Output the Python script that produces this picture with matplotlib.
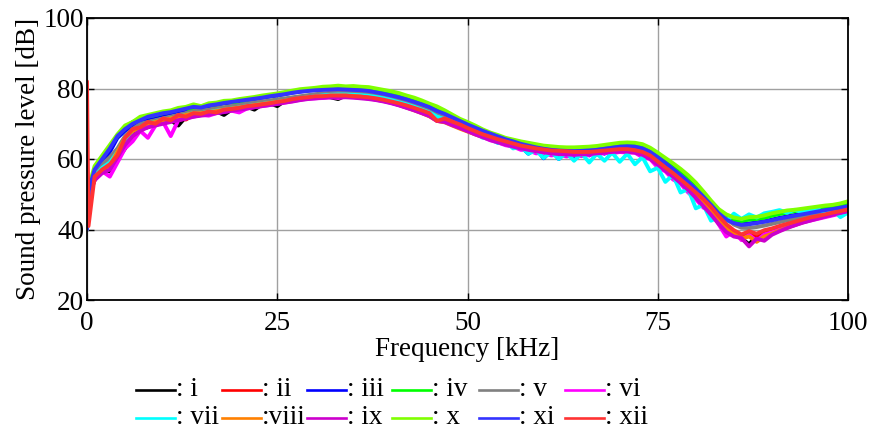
import matplotlib
matplotlib.use("Agg")
import matplotlib.pyplot as plt
from matplotlib.lines import Line2D

plt.rcParams['font.family'] = ['Liberation Serif', 'DejaVu Serif']

freq = [0, 0.2] + list(range(1, 101))

labels = ['i', 'ii', 'iii', 'iv', 'v', 'vi', 'vii', 'viii', 'ix', 'x', 'xi', 'xii']
colors = ['#000000', '#ff0000', '#0000ff', '#00ff00', '#808080', '#ff00ff',
          '#00ffff', '#ff8000', '#cc00cc', '#80ff00', '#3333ff', '#ff3333']

s_i = [40, 50,
       54, 57, 56.5, 60, 63, 67, 68.5, 69, 70, 70.5,
       71, 69.5, 72, 72.5, 73, 73, 73.5, 72.5, 74, 74.5,
       74.8, 74, 75.5, 75.8, 75, 76.5, 76.5, 77, 77.5, 77.6,
       77.8, 77.5, 77, 78, 78, 77.8, 77.6, 77.3, 76.9, 76.4,
       75.9, 75.3, 74.6, 73.9, 73.1, 71.8, 71.4, 70.5, 69.6, 68.7,
       67.8, 67, 66.2, 65.5, 64.9, 64.2, 63.6, 63.1, 62.7, 62.2,
       61.8, 61.6, 61.4, 61.5, 61.4, 61.6, 61.8, 62, 62.3, 62.5,
       62.6, 62.5, 62, 61, 59.5, 57.8, 56, 54.2, 52.3, 50.4,
       48.4, 46.3, 43.9, 41.4, 39, 37.5, 35.8, 38.2, 37.5, 39.5,
       40.5, 41.2, 42, 42.6, 43.2, 43.7, 44.2, 44.7, 45.1, 45.6]
s_ii = [40, 50,
        55, 57.5, 59, 61, 65, 67.5, 68, 69.5, 69.8, 70.5,
        71, 71.5, 71.2, 72.5, 72.8, 73, 73.3, 73.8, 74, 74.2,
        74.6, 75, 75.3, 75.6, 75.9, 76.2, 76.6, 76.9, 77.2, 77.4,
        77.5, 77.6, 77.7, 77.7, 77.6, 77.4, 77.2, 76.9, 76.5, 76,
        75.4, 74.8, 74.2, 73.4, 72.6, 71.2, 71, 70.2, 69.3, 68.4,
        67.5, 66.7, 65.9, 65.2, 64.6, 64, 63.5, 63, 62.6, 62.3,
        62, 61.8, 61.7, 61.6, 61.6, 61.7, 61.9, 62.1, 62.3, 62.5,
        62.5, 62.2, 61.6, 60.6, 59, 57.3, 55.6, 53.8, 52, 50,
        48, 45.8, 43.2, 41, 39.3, 38, 38.8, 37.8, 39.2, 39.8,
        40.6, 41.3, 41.9, 42.5, 43, 43.5, 44, 44.4, 44.9, 45.3]
s_iii = [40, 51,
         56, 59, 62, 66, 68, 69.5, 70.5, 71.5, 72, 72.5,
         73, 73.5, 74, 74.8, 74.5, 75, 75.3, 75.8, 76, 76.3,
         76.7, 77, 77.4, 77.7, 78, 78.4, 78.8, 79.1, 79.4, 79.6,
         79.8, 80, 80.1, 80, 79.9, 79.8, 79.6, 79.2, 78.8, 78.3,
         77.8, 77.2, 76.5, 75.8, 74.9, 73.9, 73, 71.9, 70.8, 69.8,
         68.8, 67.8, 67, 66.2, 65.3, 64.2, 63.6, 61.5, 63, 60.2,
         62.5, 60, 62.3, 60.3, 62.4, 61, 62.6, 61.5, 63, 63.5,
         63.8, 63.6, 63.1, 62.2, 60.7, 59, 57.2, 55.4, 53.5, 51.6,
         49.6, 47.6, 45.4, 43.5, 42.3, 41.5, 41.7, 42, 42.3, 42.8,
         43.3, 43.7, 44.1, 44.5, 44.9, 45.3, 45.6, 45.9, 46.3, 46.7]
s_iv = [40, 51,
        57, 60.5, 63.5, 66.5, 69, 70.5, 71.5, 72, 72.5, 73,
        73.5, 74, 74.5, 73.5, 75, 75.3, 75.5, 76, 76.3, 75.2,
        76.8, 77.2, 77.6, 77.9, 78.2, 78.6, 79, 79.4, 79.7, 79.9,
        80.1, 80.3, 80.4, 80.4, 80.3, 80.2, 80, 79.6, 79.2, 78.7,
        78.2, 77.5, 76.9, 76.1, 75.2, 74.2, 73.3, 72.2, 71, 70,
        69, 68, 67.1, 66.3, 65.6, 65, 64.5, 64, 63.6, 63.2,
        62.9, 62.7, 62.7, 62.7, 62.8, 62.9, 63.1, 63.4, 63.7, 64,
        64.1, 64, 63.6, 62.7, 61.2, 59.6, 58, 56.3, 54.5, 52.5,
        50.2, 47.7, 45.4, 43.8, 42.8, 42.4, 42.8, 43, 43.3, 43.9,
        44.4, 44.8, 45.2, 45.5, 45.8, 46.1, 46.4, 46.7, 47, 47.5]
s_v = [40, 50,
       56, 58.5, 60.5, 63, 66.5, 68.5, 70, 70.5, 71, 71.5,
       72, 72.5, 73, 73.5, 73.8, 74, 74.4, 74.7, 75, 75.3,
       75.7, 76, 76.3, 76.6, 76.9, 77.2, 77.5, 77.8, 78.1, 78.4,
       78.6, 78.8, 78.9, 79, 78.9, 78.8, 78.6, 78.3, 77.9, 77.5,
       76.9, 76.3, 75.6, 74.9, 74.1, 73, 72.4, 71.4, 70.4, 69.5,
       68.6, 67.8, 67.1, 66.3, 65.8, 65.3, 64.8, 64.4, 63.9, 63.4,
       63, 62.7, 62.5, 62.4, 62.4, 62.5, 62.7, 63, 63.2, 63.4,
       63.5, 63.4, 62.9, 61.9, 60.4, 58.8, 57, 55.2, 53.4, 51.4,
       49.4, 47.2, 45, 43, 41.4, 40.5, 40.4, 40.7, 41.1, 41.6,
       42.1, 42.6, 43.1, 43.5, 43.9, 44.3, 44.7, 45.1, 45.5, 45.9]
s_vi = [40, 49,
        54, 56.5, 55, 59, 63, 65, 68, 66, 69.5, 70.5,
        66.5, 71, 71.5, 72, 72.5, 72.3, 73, 73.4, 73.7, 73.2,
        74.3, 74.7, 75, 75.3, 75.7, 76, 76.4, 76.8, 77.1, 77.2,
        77.3, 77.5, 77.3, 77.6, 77.5, 77.4, 77.2, 76.8, 76.4, 75.9,
        75.3, 74.6, 73.9, 73.1, 72.2, 70.8, 70.6, 69.8, 68.9, 68,
        67, 66.2, 65.3, 64.7, 63.9, 63.5, 62.6, 62.5, 61.6, 61.8,
        61, 61.3, 60.7, 61.1, 60.8, 61.2, 61.2, 61.7, 61.6, 62,
        61.8, 61.8, 60.5, 60, 57.6, 56.5, 54.2, 53, 50.5, 48.6,
        46.2, 45, 41.5, 38, 39.5, 37, 38.5, 36.8, 38.6, 39.2,
        40, 40.8, 41.2, 42, 42.5, 43, 43.5, 44, 44.5, 45]
s_vii = [40, 50,
         55, 57.5, 59, 62, 65.5, 68, 69, 70, 70.5, 71,
         71.5, 72, 72.5, 73, 73, 73.4, 73.7, 74, 74.3, 74.6,
         75, 75.3, 75.6, 75.9, 76.2, 76.5, 76.8, 77.2, 77.5, 77.8,
         78, 78.2, 78.3, 78.3, 78.2, 78.1, 77.9, 77.6, 77.2, 76.7,
         76.1, 75.5, 74.8, 74, 73.2, 72, 71.3, 70.3, 69.3, 68.2,
         67.4, 66, 65.8, 64.5, 64.8, 63, 63.5, 61.5, 62.5, 60.3,
         62, 60, 61.8, 59.5, 61.6, 59, 61.5, 59.5, 61.8, 59.2,
         61.5, 58.5, 60.5, 56.5, 57.5, 53.5, 55.5, 50.5, 51.5, 46,
         47, 42.5, 43.5, 42.2, 44.5, 43, 44.3, 43.4, 44.6, 45,
         45.5, 44.8, 45.6, 44.9, 45.5, 45.8, 44.6, 45.5, 43.5, 44.8]
s_viii = [40, 50,
          54, 57, 58, 62, 66, 68, 69, 70, 70.5, 71,
          71.5, 72, 72.5, 73, 73, 73.3, 73.6, 74, 74.3, 74.6,
          74.9, 75.3, 75.6, 75.9, 76.2, 76.5, 76.9, 77.2, 77.5, 77.7,
          77.8, 78, 78, 78, 77.9, 77.7, 77.4, 77, 76.5, 76,
          75.3, 74.6, 73.8, 73, 72.1, 70.8, 70.4, 69.5, 68.6, 67.8,
          67, 66.3, 65.6, 65, 64.4, 63.9, 63.4, 63, 62.6, 62.4,
          62.2, 62, 62, 61.9, 62, 62.1, 62.3, 62.4, 62.6, 62.7,
          62.7, 62.4, 61.8, 60.6, 58.9, 57.2, 55.4, 53.6, 51.7, 49.6,
          47.4, 45, 42.6, 40.4, 38.8, 37.5, 38, 36.5, 38, 38.8,
          39.7, 40.5, 41.3, 42, 42.7, 43.3, 43.8, 44.3, 44.8, 45.3]
s_ix = [40, 49,
        54, 56, 57, 60.5, 64, 66.5, 68, 69, 69.5, 70,
        70.5, 71, 71.5, 72, 72.3, 72.6, 73, 73.3, 73.7, 74,
        74.3, 74.7, 75, 75.3, 75.6, 76, 76.3, 76.7, 77, 77.2,
        77.4, 77.5, 77.6, 77.5, 77.4, 77.2, 77, 76.7, 76.3, 75.8,
        75.2, 74.5, 73.8, 73, 72.2, 70.8, 70.5, 69.6, 68.8, 67.9,
        67, 66.2, 65.4, 64.7, 64.1, 63.5, 63, 62.6, 62.2, 61.9,
        61.6, 61.4, 61.3, 61.2, 61.3, 61.4, 61.6, 61.8, 62, 62.1,
        62.1, 61.8, 61.2, 60, 58.4, 56.7, 55, 53.2, 51.2, 49,
        46.6, 44.2, 41.6, 39.3, 38, 37.6, 35.2, 37.4, 36.8, 38.5,
        39.5, 40.4, 41.2, 41.9, 42.5, 43.1, 43.7, 44.2, 44.7, 45.2]
s_x = [40, 52,
       58, 61, 64, 67, 69.5, 70.5, 72, 72.5, 73, 73.5,
       73.8, 74.5, 74.8, 75.5, 75, 75.8, 76, 76.5, 76.6, 77,
       77.3, 77.6, 78, 78.3, 78.6, 79, 79.4, 79.8, 80, 80.2,
       80.5, 80.6, 80.8, 80.6, 80.7, 80.5, 80.4, 80, 79.6, 79.2,
       78.7, 78, 77.4, 76.6, 75.7, 74.9, 73.8, 72.6, 71.4, 70.5,
       69.5, 68.4, 67.5, 66.8, 66, 65.5, 65, 64.6, 64.2, 63.8,
       63.6, 63.4, 63.3, 63.3, 63.4, 63.5, 63.7, 64, 64.3, 64.6,
       64.7, 64.6, 64.2, 63.2, 61.8, 60.3, 58.8, 57.2, 55.4, 53.3,
       50.8, 48.2, 45.8, 44.3, 43.4, 43, 43.5, 43.6, 44, 44.6,
       45, 45.4, 45.6, 45.9, 46.2, 46.5, 46.8, 47, 47.4, 48]
s_xi = [40, 51,
        57, 60, 63, 66.5, 68.5, 70, 71, 72, 72.5, 73,
        73.3, 73.8, 74.3, 74.8, 74.6, 75.2, 75.5, 75.9, 76.2, 76.5,
        76.8, 77.1, 77.4, 77.8, 78.1, 78.4, 78.8, 79.1, 79.3, 79.5,
        79.6, 79.7, 79.8, 79.7, 79.6, 79.5, 79.3, 78.9, 78.5, 78,
        77.5, 76.9, 76.2, 75.5, 74.7, 73.6, 72.8, 71.8, 70.8, 69.8,
        68.9, 68, 67.2, 66.4, 65.6, 65, 64.3, 63.8, 63.3, 62.9,
        62.6, 62.4, 62.3, 62.2, 62.3, 62.4, 62.6, 62.9, 63.2, 63.5,
        63.6, 63.5, 63, 62, 60.5, 58.9, 57.2, 55.4, 53.5, 51.5,
        49.3, 47, 44.6, 42.8, 41.8, 41.3, 41.5, 41.8, 42.2, 42.6,
        43.1, 43.5, 43.9, 44.3, 44.7, 45.1, 45.5, 45.8, 46.2, 46.6]
s_xii = [82, 41,
         55, 57, 58.5, 61, 66, 68.5, 69, 70.5, 70, 71.5,
         71, 72.5, 72, 73, 72.8, 73.5, 73.2, 74, 74.2, 74.5,
         75, 75.2, 75.5, 75.8, 76.2, 76.5, 77, 77.3, 77.5, 77.8,
         77.8, 78, 78, 78, 77.8, 77.7, 77.5, 77.2, 76.8, 76.3,
         75.8, 75.2, 74.5, 73.8, 73, 70.8, 71.5, 70.6, 69.8, 68.8,
         67.9, 67, 66.3, 65.6, 65, 64.4, 63.8, 63.4, 63, 62.7,
         62.4, 62.3, 62.2, 62, 62, 62, 62.2, 62.4, 62.6, 62.8,
         62.8, 62.5, 62, 61, 59.3, 57.6, 56, 54.2, 52.4, 50.5,
         48.6, 46.4, 43.8, 41.5, 39.8, 38.6, 39.5, 38.8, 39.8, 40.3,
         41, 41.6, 42.2, 42.8, 43.4, 43.8, 44.3, 44.8, 45.2, 45.7]

series = [s_i, s_ii, s_iii, s_iv, s_v, s_vi, s_vii, s_viii, s_ix, s_x, s_xi, s_xii]

x_ticks = [0, 25, 50, 75, 100]
y_ticks = [20, 40, 60, 80, 100]

W, H = 872, 434
FS = 19.5
fig = plt.figure(figsize=(W / 100, H / 100), dpi=100)
ax = fig.add_axes([87 / W, 1 - 300 / H, (848 - 87) / W, (300 - 18) / H])

for vals, c in zip(series, colors):
    ax.plot(freq, vals, color=c, lw=2.8, solid_joinstyle='round',
            solid_capstyle='round')

ax.set_xlim(0, 100)
ax.set_ylim(20, 100)
ax.set_xticks(x_ticks)
ax.set_yticks(y_ticks)
ax.grid(True, color='#a0a0a0', lw=1.0)
ax.set_axisbelow(True)
ax.tick_params(direction='in', top=True, right=True, length=5, width=1,
               labelsize=FS)
ax.tick_params(axis='y', pad=2)
ax.tick_params(axis='x', pad=8)
for sp in ax.spines.values():
    sp.set_linewidth(1.3)
ax.set_xlabel('Frequency [kHz]', fontsize=FS, labelpad=1)
ax.set_ylabel('Sound pressure level [dB]', fontsize=FS, labelpad=2)

# legend (two rows of six entries)
col_x = [136, 222, 307, 392, 479, 565]
row_y = [390, 418]
for k, (lab, c) in enumerate(zip(labels, colors)):
    r, cidx = divmod(k, 6)
    x0 = col_x[cidx]
    y0 = row_y[r]
    fig.add_artist(Line2D([x0 / W, (x0 + 39) / W], [1 - y0 / H, 1 - y0 / H],
                          transform=fig.transFigure, color=c, lw=1.9))
    txt = ':' + lab if lab == 'viii' else ': ' + lab
    fig.text((x0 + 40) / W, 1 - (y0 - 1) / H, txt, fontsize=FS,
             va='center', ha='left')

fig.savefig('out.png', dpi=100)
